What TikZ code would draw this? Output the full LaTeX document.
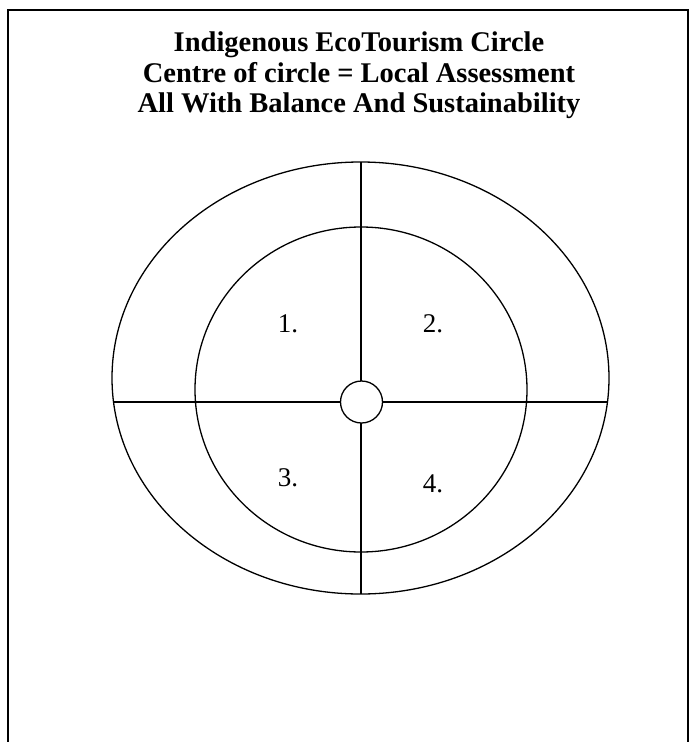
\documentclass[tikz,border=0pt]{standalone}
\usepackage{fontspec}
\setmainfont{Liberation Serif}
\usetikzlibrary{shapes.geometric}
\begin{document}
\begin{tikzpicture}[x=1pt,y=-1pt,
  frame/.style={line width=1.8pt, black},
  ring/.style={line width=1.3pt, black},
  axis/.style={line width=1.3pt, black},
  titletext/.style={font=\bfseries\fontsize{28.5}{31}\selectfont, anchor=base, inner sep=0pt},
  lbl/.style={font=\fontsize{27}{31}\selectfont, anchor=base, inner sep=0pt}]
\useasboundingbox (0,0) rectangle (689,742);
% frame
\coordinate (fbl) at (8,745);
\coordinate (ftl) at (8,10);
\coordinate (ftr) at (688,10);
\coordinate (fbr) at (688,745);
\draw[frame] (fbl) -- (ftl) -- (ftr) -- (fbr);
% title
\node[titletext] (t1) at (359,51) {Indigenous EcoTourism Circle};
\node[titletext] (t2) at (359,82) {Centre of circle = Local Assessment};
\node[titletext] (t3) at (359,112) {All With Balance And Sustainability};
% rings
\draw[ring] (360.5,378) ellipse [x radius=248.5pt, y radius=216pt];
\draw[ring] (361,389.5) ellipse [x radius=166pt, y radius=162.5pt];
% axes
\coordinate (otop) at (361,162);
\coordinate (obot) at (361,594);
\coordinate (oleft) at (113,402);
\coordinate (oright) at (608,402);
\draw[axis] (otop) -- (obot);
\draw[axis] (oleft) -- (oright);
% centre
\node[circle, draw, line width=1.3pt, fill=white, minimum size=42pt, inner sep=0pt] (centre) at (361.5,402) {};
% labels
\node[lbl] (n1) at (288,332) {1.};
\node[lbl] (n2) at (433,332) {2.};
\node[lbl] (n3) at (288,486) {3.};
\node[lbl] (n4) at (433,492) {4.};
\end{tikzpicture}
\end{document}
